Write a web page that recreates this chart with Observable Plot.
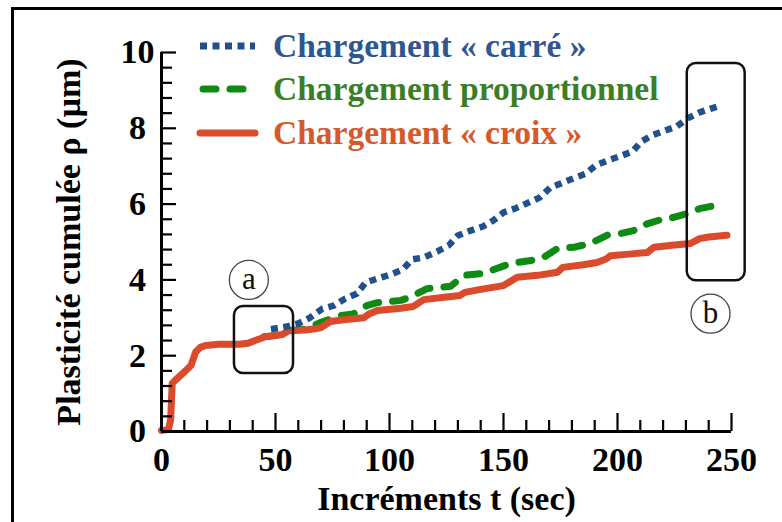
<!DOCTYPE html>
<html>
<head>
<meta charset="utf-8">
<script src="https://cdn.jsdelivr.net/npm/d3@7"></script>
<script src="https://cdn.jsdelivr.net/npm/@observablehq/plot@0.6"></script>
<style>
  html, body { margin: 0; padding: 0; background: #fff; }
  #chart { width: 782px; height: 522px; }
</style>
</head>
<body>
<div id="chart"></div>
<script>
// ---- Data ----
const seriesNames = ["Chargement « carré »", "Chargement proportionnel", "Chargement « croix »"];
const seriesKeys = ["carre", "prop", "croix"];

const carreT   = [48, 55, 60, 65, 70.6, 75.5, 80.7, 85.8, 89.5, 95, 100.4, 105.7, 110, 115, 121, 126, 130, 135.5, 141, 145.6, 150, 155, 161, 165.8, 170.6, 175, 180.7, 186, 190.4, 195.6, 201, 206.6, 210.5, 215, 220, 226, 230.7, 236, 241, 244];
const carreRho = [2.7, 2.77, 2.85, 3.0, 3.24, 3.32, 3.51, 3.64, 3.93, 4.04, 4.14, 4.27, 4.54, 4.59, 4.75, 4.91, 5.17, 5.3, 5.41, 5.57, 5.78, 5.88, 6.04, 6.17, 6.44, 6.54, 6.68, 6.8, 7.02, 7.15, 7.26, 7.39, 7.65, 7.81, 7.92, 8.05, 8.26, 8.42, 8.52, 8.58];

const propT   = [45, 50, 55.7, 63, 66, 70, 78.5, 84, 87, 90, 94.7, 105, 108, 110.5, 116.5, 126.8, 131, 132.5, 141, 147, 153, 162, 167.5, 173.7, 180.7, 188, 195.6, 201, 207, 213, 219, 224.6, 230.7, 236, 241, 247];
const propRho = [2.5, 2.53, 2.66, 2.7, 2.78, 2.88, 3.06, 3.1, 3.2, 3.32, 3.4, 3.46, 3.52, 3.59, 3.77, 3.83, 4.04, 4.12, 4.17, 4.3, 4.43, 4.51, 4.59, 4.83, 4.86, 4.96, 5.18, 5.22, 5.3, 5.48, 5.59, 5.65, 5.75, 5.88, 5.94, 5.97];

const croixT   = [0, 3, 4, 4.7, 6, 10.5, 13, 15, 17, 19.3, 25, 34, 38, 41, 45.6, 50, 53, 55.7, 63, 67.5, 70, 74, 80, 88.6, 91, 94.7, 105, 110.5, 113, 115, 125, 131, 133, 140, 150, 156, 165, 173.7, 176, 185, 191, 195, 197, 205, 213, 216, 225, 232, 236, 240, 248];
const croixRho = [0.03, 0.05, 0.3, 1.27, 1.35, 1.6, 1.75, 2.1, 2.22, 2.27, 2.3, 2.3, 2.33, 2.4, 2.5, 2.53, 2.56, 2.66, 2.68, 2.71, 2.74, 2.9, 2.95, 3.0, 3.1, 3.19, 3.25, 3.3, 3.4, 3.48, 3.55, 3.59, 3.67, 3.75, 3.85, 4.07, 4.12, 4.2, 4.33, 4.4, 4.46, 4.55, 4.64, 4.68, 4.72, 4.86, 4.92, 4.96, 5.09, 5.13, 5.18];

const xMajorTicks = [0, 50, 100, 150, 200, 250];
const xMinorTicks = d3.range(10, 250, 10).filter(v => v % 50 !== 0);
const yMajorTicks = [0, 2, 4, 6, 8, 10];
const yMinorTicks = d3.range(1, 25).map(i => +(i * 0.4).toFixed(1)).filter(v => Math.abs(v / 2 - Math.round(v / 2)) > 1e-6);

const xTitle = "Incréments t (sec)";
const yTitle = "Plasticité cumulée ρ (µm)";

// annotation boxes and circle labels (data units)
const boxLabels = ["a", "b"];
const boxX1 = [32, 230.6];
const boxX2 = [57.9, 256];
const boxY1 = [1.53, 3.98];
const boxY2 = [3.3, 9.71];
const circleX = [38.3, 240.8];
const circleY = [4.0, 3.11];

// ---- Styles ----
const lineColors = {carre: "#21508c", prop: "#0f8a12", croix: "#dc4a2c"};
const textColors = {carre: "#2f5592", prop: "#3b7e24", croix: "#d5592b"};
const dashes = {carre: "7,5.5", prop: "13,14", croix: null};
const caps = {carre: "butt", prop: "round", croix: "round"};

const toRows = (key, T, R) => T.map((t, i) => ({key, t, rho: R[i]}));
const carreRows = toRows("carre", carreT, carreRho);
const propRows = toRows("prop", propT, propRho);
const croixRows = toRows("croix", croixT, croixRho);
const boxes = boxLabels.map((l, i) => ({l, x1: boxX1[i], x2: boxX2[i], y1: boxY1[i], y2: boxY2[i], cx: circleX[i], cy: circleY[i]}));

const FONT = "'Liberation Serif', 'Times New Roman', serif";
const W = 782, H = 522, ML = 161, MR = 51, MT = 52, MB = 91;
const PW = W - ML - MR, PH = H - MT - MB;

function decorations() {
  const g = d3.create("svg:g");
  // outer frame (top and left edges visible)
  g.append("line").attr("x1", 11).attr("x2", W).attr("y1", 8.5).attr("y2", 8.5).attr("stroke", "#000").attr("stroke-width", 3);
  g.append("line").attr("x1", 12.5).attr("x2", 12.5).attr("y1", 7).attr("y2", H).attr("stroke", "#000").attr("stroke-width", 3);
  // legend
  const baselines = [57, 100, 144];
  seriesKeys.forEach((k, i) => {
    const yb = baselines[i];
    const ys = yb - 11;
    const ln = g.append("line").attr("x1", k === "prop" ? 203 : 200).attr("x2", 255).attr("y1", ys).attr("y2", ys)
      .attr("stroke", lineColors[k]).attr("stroke-width", 7).attr("stroke-linecap", caps[k]);
    if (dashes[k]) ln.attr("stroke-dasharray", dashes[k]);
    g.append("text").attr("x", 273).attr("y", yb).attr("fill", textColors[k]).attr("text-anchor", "start")
      .attr("font-family", FONT).attr("font-weight", "bold").attr("font-size", 33.5).text(seriesNames[i]);
  });
  return g.node();
}

const chart = Plot.plot({
  width: W, height: H,
  marginLeft: ML, marginRight: MR, marginTop: MT, marginBottom: MB,
  x: {domain: [0, 250], axis: null},
  y: {domain: [0, 10], axis: null},
  style: {fontFamily: FONT, background: "#fff", overflow: "visible"},
  marks: [
    // data lines
    Plot.line(propRows, {x: "t", y: "rho", stroke: lineColors.prop, strokeWidth: 7, strokeDasharray: dashes.prop, strokeLinecap: "round", strokeLinejoin: "round"}),
    Plot.line(croixRows, {x: "t", y: "rho", stroke: lineColors.croix, strokeWidth: 7, strokeLinecap: "round", strokeLinejoin: "round"}),
    Plot.line(carreRows, {x: "t", y: "rho", stroke: lineColors.carre, strokeWidth: 6.5, strokeDasharray: dashes.carre, strokeLinecap: "butt"}),
    // axes lines
    Plot.ruleY([0], {stroke: "#000", strokeWidth: 3}),
    Plot.ruleX([0], {stroke: "#000", strokeWidth: 3}),
    // ticks (inward)
    Plot.tickX(xMajorTicks, {x: d => d, stroke: "#000", strokeWidth: 2.2, insetTop: PH - 18}),
    Plot.tickX(xMinorTicks, {x: d => d, stroke: "#000", strokeWidth: 2.2, insetTop: PH - 11}),
    Plot.tickY(yMajorTicks, {y: d => d, stroke: "#000", strokeWidth: 2.2, insetRight: PW - 15}),
    Plot.tickY(yMinorTicks, {y: d => d, stroke: "#000", strokeWidth: 2.2, insetRight: PW - 11}),
    // tick labels
    Plot.text(xMajorTicks, {x: d => d, y: 0, text: d => String(d), dy: 29, fontSize: 34, fontWeight: "bold", fill: "#000", lineAnchor: "middle", textAnchor: "middle"}),
    Plot.text(yMajorTicks, {x: 0, y: d => d, text: d => String(d), dx: -24, fontSize: 34, fontWeight: "bold", fill: "#000", lineAnchor: "middle", textAnchor: "middle"}),
    // axis titles
    Plot.text([xTitle], {frameAnchor: "bottom", text: d => d, dy: 68, fontSize: 34, fontWeight: "bold", fill: "#000", lineAnchor: "middle", textAnchor: "middle"}),
    Plot.text([yTitle], {frameAnchor: "left", text: d => d, dx: -92.5, rotate: -90, fontSize: 34, fontWeight: "bold", fill: "#000", lineAnchor: "middle", textAnchor: "middle"}),
    // annotations
    Plot.rect(boxes, {x1: "x1", x2: "x2", y1: "y1", y2: "y2", fill: "none", stroke: "#111", strokeWidth: 2.5, rx: 9}),
    Plot.dot(boxes, {x: "cx", y: "cy", r: 19.5, fill: "#fff", stroke: "#444", strokeWidth: 1.3}),
    Plot.text(boxes, {x: "cx", y: "cy", text: "l", fontSize: 31, fill: "#111", lineAnchor: "middle", textAnchor: "middle", dy: -1}),
    decorations
  ]
});
document.getElementById("chart").appendChild(chart);
</script>
</body>
</html>
